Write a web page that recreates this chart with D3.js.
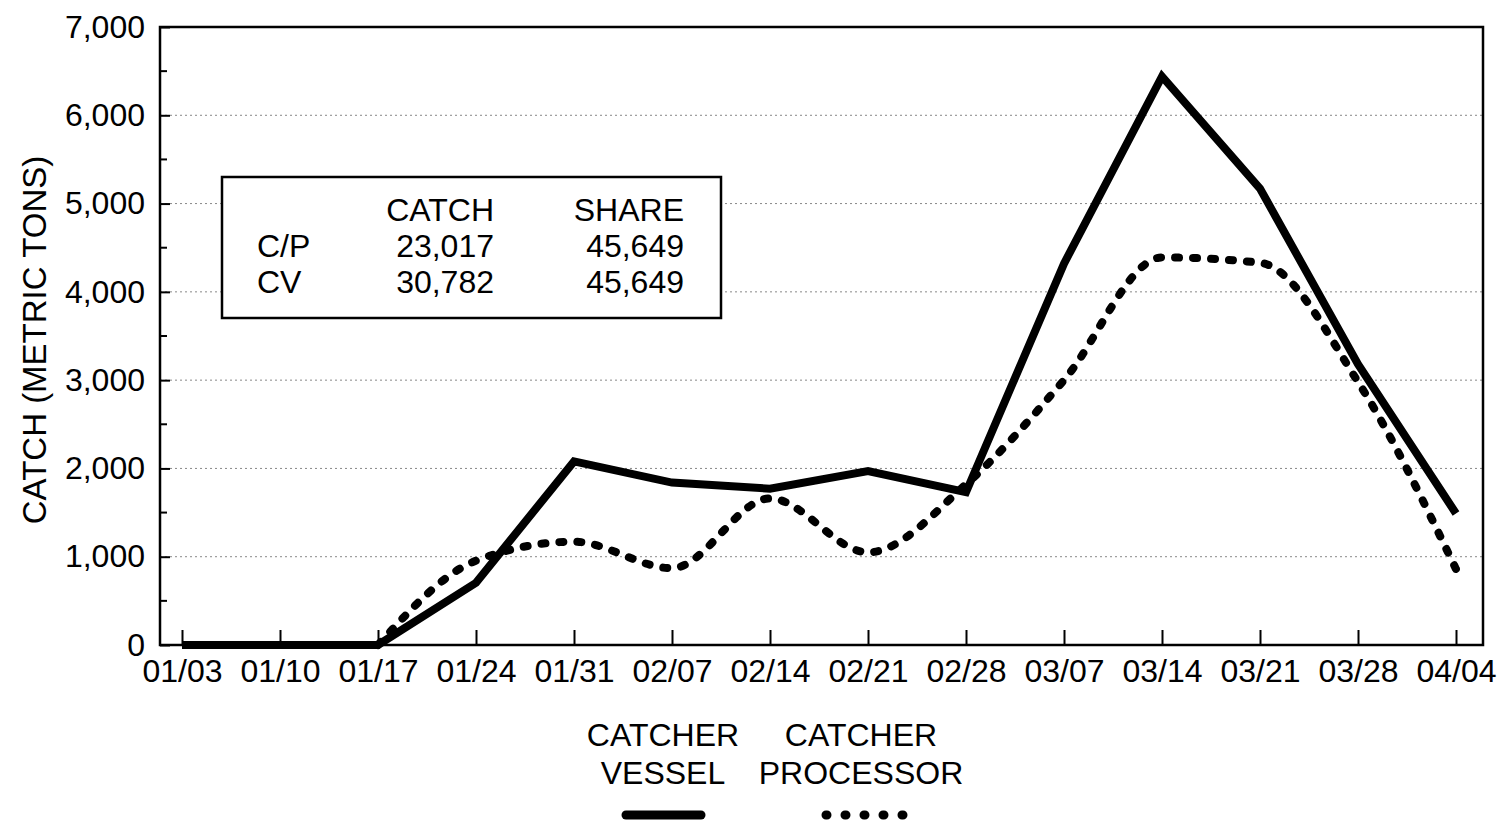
<!DOCTYPE html>
<html><head><meta charset="utf-8">
<script src="https://cdn.jsdelivr.net/npm/d3@7"></script>
<style>
html,body{margin:0;padding:0;background:#fff;}
text{font-family:"Liberation Sans",Arial,sans-serif;fill:#000;}
</style></head>
<body><svg id="c" width="1499" height="823"></svg>
<script>
const dates = ["01/03","01/10","01/17","01/24","01/31","02/07","02/14","02/21","02/28","03/07","03/14","03/21","03/28","04/04"];
const catcherVessel = [0,0,0,705,2080,1840,1770,1970,1730,4320,6440,5170,3180,1490];
const catcherProcessor = [0,0,0,955,1170,870,1660,1050,1820,3000,4390,4330,2980,860];
const yTicks = [0,1000,2000,3000,4000,5000,6000,7000];
const yMinorTicks = [500,1500,2500,3500,4500,5500,6500];
const tableHeader = ["", "CATCH", "SHARE"];
const tableRows = [["C/P","23,017","45,649"],["CV","30,782","45,649"]];
const legendLabels = [["CATCHER","VESSEL"],["CATCHER","PROCESSOR"]];
const yTitle = "CATCH (METRIC TONS)";

const svg = d3.select("#c");
const L=160, R=1483, T=27, B=645;
const x = d3.scalePoint().domain(dates).range([182,1456]);
const y = d3.scaleLinear().domain([0,7000]).range([B,T]);
const FS = "32px";

// gridlines
svg.append("g").selectAll("line").data(yTicks.filter(d=>d>0 && d<7000)).join("line")
  .attr("x1",L).attr("x2",R).attr("y1",d=>y(d)).attr("y2",d=>y(d))
  .attr("stroke","#888").attr("stroke-width",1).attr("stroke-dasharray","2,3");

// frame
svg.append("rect").attr("x",L).attr("y",T).attr("width",R-L).attr("height",B-T)
  .attr("fill","none").attr("stroke","#000").attr("stroke-width",2.5);

// y axis
const ya = svg.append("g").attr("transform",`translate(${L},0)`)
  .call(d3.axisLeft(y).tickValues(yTicks).tickSize(-10).tickPadding(15).tickFormat(d3.format(",")));
ya.select(".domain").remove();
ya.selectAll("line").attr("stroke","#000").attr("stroke-width",2);
ya.selectAll("text").style("font-size",FS).attr("font-family","Liberation Sans, Arial, sans-serif");
svg.append("g").selectAll("line").data(yMinorTicks).join("line")
  .attr("x1",L).attr("x2",L+7).attr("y1",d=>y(d)).attr("y2",d=>y(d))
  .attr("stroke","#000").attr("stroke-width",2);

// x axis
const xa = svg.append("g").attr("transform",`translate(0,${B})`)
  .call(d3.axisBottom(x).tickSize(-15).tickPadding(14));
xa.select(".domain").remove();
xa.selectAll("line").attr("stroke","#000").attr("stroke-width",2);
xa.selectAll("text").style("font-size",FS).attr("font-family","Liberation Sans, Arial, sans-serif");

// y title
svg.append("text").attr("transform","translate(46,340) rotate(-90)")
  .attr("text-anchor","middle").style("font-size","33px").text(yTitle);

// lines
const lineCV = d3.line().x((d,i)=>x(dates[i])).y(d=>y(d));
svg.append("path").datum(catcherProcessor.slice(2)).attr("d", d3.line().x((d,i)=>x(dates[i+2])).y(d=>y(d)).curve(d3.curveMonotoneX))
  .attr("fill","none").attr("stroke","#000").attr("stroke-width",8)
  .attr("stroke-linecap","round").attr("stroke-dasharray","4,14");
svg.append("path").datum(catcherVessel).attr("d",lineCV)
  .attr("fill","none").attr("stroke","#000").attr("stroke-width",8).attr("stroke-linejoin","miter");

// inset table
svg.append("rect").attr("x",222).attr("y",177).attr("width",499).attr("height",141)
  .attr("fill","#fff").attr("stroke","#000").attr("stroke-width",2.5);
const colX = [257,494,684], colAnchor=["start","end","end"];
const rowsAll = [tableHeader].concat(tableRows);
rowsAll.forEach((row,ri)=>{
  row.forEach((cell,ci)=>{
    svg.append("text").attr("x",colX[ci]).attr("y",221+ri*36)
      .attr("text-anchor",colAnchor[ci]).style("font-size",FS).text(cell);
  });
});

// legend
const legX=[663,861];
legendLabels.forEach((lab,i)=>{
  lab.forEach((t,j)=>{
    svg.append("text").attr("x",legX[i]).attr("y",746+j*38).attr("text-anchor","middle")
      .style("font-size",FS).text(t);
  });
});
svg.append("line").attr("x1",626).attr("x2",701).attr("y1",815).attr("y2",815)
  .attr("stroke","#000").attr("stroke-width",9).attr("stroke-linecap","round");
svg.append("line").attr("x1",826).attr("x2",906).attr("y1",815).attr("y2",815)
  .attr("stroke","#000").attr("stroke-width",9).attr("stroke-linecap","round").attr("stroke-dasharray","1,18");
</script></body></html>
